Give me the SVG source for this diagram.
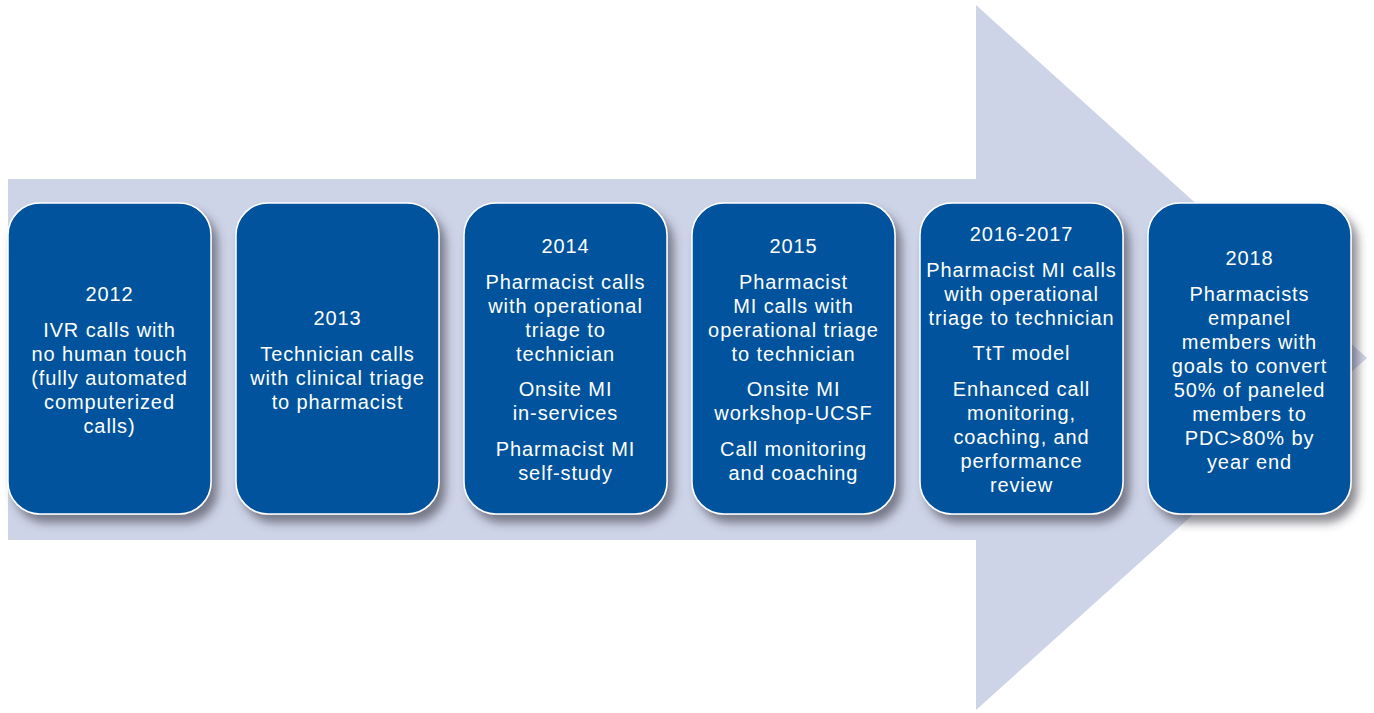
<svg xmlns="http://www.w3.org/2000/svg" width="1374" height="713" viewBox="0 0 1374 713">
<style>
.box{fill:#00529C;stroke:#ffffff;stroke-width:1.5;filter:url(#sh);}
.t{font-family:"Liberation Sans",Arial,sans-serif;font-size:20px;fill:#ffffff;text-anchor:middle;letter-spacing:0.9px;}
</style>
<defs>
<filter id="sh" x="-10%" y="-10%" width="130%" height="130%">
<feDropShadow dx="6" dy="8" stdDeviation="5" flood-color="#3a3a4a" flood-opacity="0.6"/>
</filter>
</defs>
<rect width="1374" height="713" fill="#ffffff"/>
<g id="connectors">
<polygon points="8,179 976,179 976,5 1367,358 976,710 976,540 8,540" fill="#CED4E8"/>
</g>
<g id="n2012">
<rect class="box" x="8" y="203" width="203" height="311" rx="32"/>
<text class="t" x="109.5" y="301">2012</text>
<text class="t" x="109.5" y="337">IVR calls with</text>
<text class="t" x="109.5" y="361">no human touch</text>
<text class="t" x="109.5" y="385">(fully automated</text>
<text class="t" x="109.5" y="409">computerized</text>
<text class="t" x="109.5" y="433">calls)</text>
</g>
<g id="n2013">
<rect class="box" x="236" y="203" width="203" height="311" rx="32"/>
<text class="t" x="337.5" y="325">2013</text>
<text class="t" x="337.5" y="361">Technician calls</text>
<text class="t" x="337.5" y="385">with clinical triage</text>
<text class="t" x="337.5" y="409">to pharmacist</text>
</g>
<g id="n2014">
<rect class="box" x="464" y="203" width="203" height="311" rx="32"/>
<text class="t" x="565.5" y="253">2014</text>
<text class="t" x="565.5" y="289">Pharmacist calls</text>
<text class="t" x="565.5" y="313">with operational</text>
<text class="t" x="565.5" y="337">triage to</text>
<text class="t" x="565.5" y="361">technician</text>
<text class="t" x="565.5" y="396">Onsite MI</text>
<text class="t" x="565.5" y="420">in-services</text>
<text class="t" x="565.5" y="456">Pharmacist MI</text>
<text class="t" x="565.5" y="480">self-study</text>
</g>
<g id="n2015">
<rect class="box" x="692" y="203" width="203" height="311" rx="32"/>
<text class="t" x="793.5" y="253">2015</text>
<text class="t" x="793.5" y="289">Pharmacist</text>
<text class="t" x="793.5" y="313">MI calls with</text>
<text class="t" x="793.5" y="337">operational triage</text>
<text class="t" x="793.5" y="361">to technician</text>
<text class="t" x="793.5" y="396">Onsite MI</text>
<text class="t" x="793.5" y="420">workshop-UCSF</text>
<text class="t" x="793.5" y="456">Call monitoring</text>
<text class="t" x="793.5" y="480">and coaching</text>
</g>
<g id="n2016">
<rect class="box" x="920" y="203" width="203" height="311" rx="32"/>
<text class="t" x="1021.5" y="241">2016-2017</text>
<text class="t" x="1021.5" y="277">Pharmacist MI calls</text>
<text class="t" x="1021.5" y="301">with operational</text>
<text class="t" x="1021.5" y="325">triage to technician</text>
<text class="t" x="1021.5" y="360">TtT model</text>
<text class="t" x="1021.5" y="396">Enhanced call</text>
<text class="t" x="1021.5" y="420">monitoring,</text>
<text class="t" x="1021.5" y="444">coaching, and</text>
<text class="t" x="1021.5" y="468">performance</text>
<text class="t" x="1021.5" y="492">review</text>
</g>
<g id="n2018">
<rect class="box" x="1148" y="203" width="203" height="311" rx="32"/>
<text class="t" x="1249.5" y="265">2018</text>
<text class="t" x="1249.5" y="301">Pharmacists</text>
<text class="t" x="1249.5" y="325">empanel</text>
<text class="t" x="1249.5" y="349">members with</text>
<text class="t" x="1249.5" y="373">goals to convert</text>
<text class="t" x="1249.5" y="397">50% of paneled</text>
<text class="t" x="1249.5" y="421">members to</text>
<text class="t" x="1249.5" y="445">PDC&gt;80% by</text>
<text class="t" x="1249.5" y="469">year end</text>
</g>
</svg>
